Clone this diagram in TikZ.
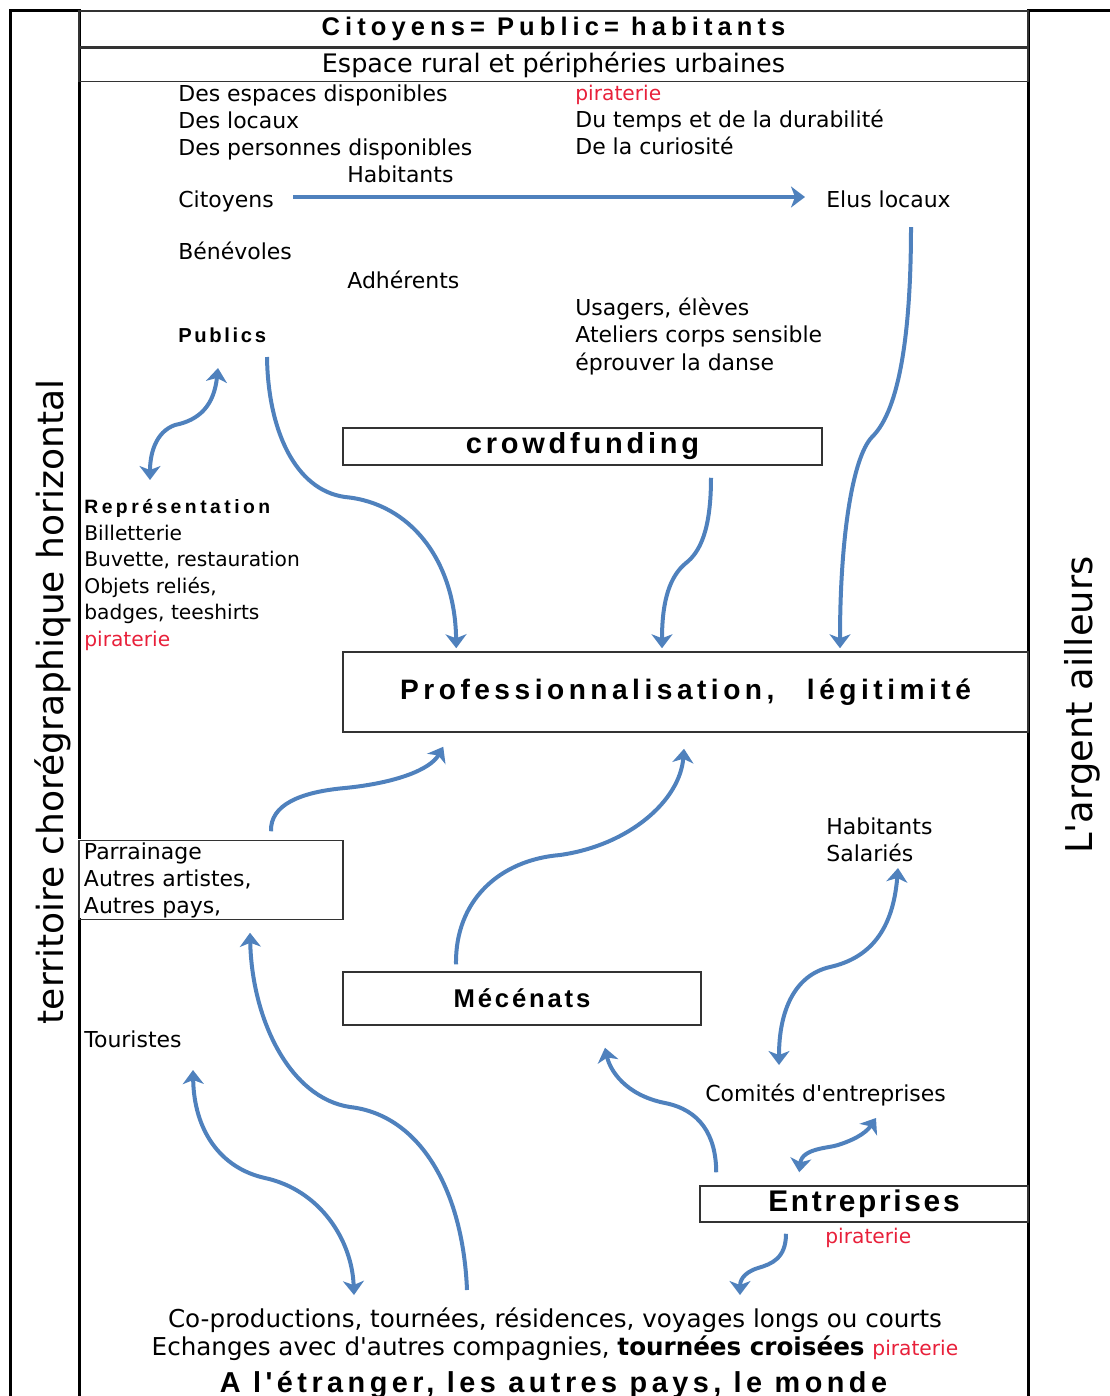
\documentclass[tikz,border=0pt]{standalone}
\usepackage{fontspec}
\setmainfont{DejaVu Sans}
\newfontfamily\arialfont{Liberation Sans}
\usetikzlibrary{arrows.meta,positioning}
\definecolor{flowblue}{HTML}{4F81BD}
\definecolor{piratered}{HTML}{E8203A}
\definecolor{boxline}{HTML}{333333}
\newcommand{\spacedbold}[2]{{\arialfont\bfseries\addfontfeature{LetterSpace=#1}#2}}

\begin{document}
\begin{tikzpicture}[x=0.2mm, y=-0.2mm,
    >={Stealth[length=2.8mm, width=4.2mm, inset=0.8mm]},
    frame/.style={line width=0.6mm},
    row/.style={rectangle, draw=boxline, line width=0.3mm, inner sep=0pt, minimum width=189.8mm},
    box/.style={rectangle, draw=boxline, line width=0.3mm, inner sep=0pt},
    txt/.style={inner sep=0pt, anchor=base west, font=\fontsize{12.5}{15.4}\selectfont},
    lst/.style={inner sep=0pt, anchor=north west, align=left, font=\fontsize{12.5}{15.4}\selectfont},
    pirate/.style={inner sep=0pt, anchor=base west, text=piratered, font=\fontsize{11.5}{14}\selectfont},
    bottomline/.style={inner sep=0pt, anchor=base, font=\fontsize{14}{17}\selectfont},
    side/.style={inner sep=0pt, anchor=base, rotate=90, font=\fontsize{20.5}{24}\selectfont},
    arrow/.style={->, draw=flowblue, line width=0.8mm},
    twoway/.style={<->, draw=flowblue, line width=0.8mm}
  ]
  \useasboundingbox (0,0) rectangle (1110,1396);
  \draw[frame] (10,1396) |- (79,10) -- (79,839);
  \draw[frame] (79,918) -- (79,1396);
  \draw[frame] (1110,10) -| (1028,1396);

  \node[row, minimum height=7.2mm, font=\fontsize{14.5}{17}\selectfont] (title) at (553.5,29) {\spacedbold{20}{Citoyens= Public= habitants}};
  \node[row, minimum height=6.6mm, font=\fontsize{14.5}{17}\selectfont, below=0pt of title] (espace) {Espace rural et périphéries urbaines};

  \node[lst] (dispo) at (178,84) {Des espaces disponibles\\Des locaux\\Des personnes disponibles};
  \node[pirate] (pira1) at (575,100) {piraterie};
  \node[lst] (temps) at (575,110) {Du temps et de la durabilité\\De la curiosité};
  \node[txt] (habit1) at (347,182) {Habitants};
  \node[txt] (citoyens) at (178,207) {Citoyens};
  \node[txt] (elus) at (826,207) {Elus locaux};
  \node[txt] (benevoles) at (178,259) {Bénévoles};
  \node[txt] (adherents) at (347,288) {Adhérents};
  \node[txt, font=\fontsize{11.5}{14}\selectfont] (publics) at (178,342) {\spacedbold{13}{Publics}};
  \node[lst] (usagers) at (575,298) {Usagers, élèves\\Ateliers corps sensible\\éprouver la danse};
  \node[box, minimum width=95.8mm, minimum height=7.4mm, font=\fontsize{16.5}{19}\selectfont] (crowd) at (582.5,446.5) {\spacedbold{13}{crowdfunding}};
  \node[lst, font=\fontsize{11.5}{15.1}\selectfont] (vente) at (84,499) {{\fontsize{11}{13}\selectfont\spacedbold{18}{Représentation}}\\Billetterie\\Buvette, restauration\\Objets reliés,\\badges, teeshirts\\\textcolor{piratered}{piraterie}};
  \node[box, minimum width=137mm, minimum height=16mm, font=\fontsize{16}{19}\selectfont] (prof) at (685.5,692) {\spacedbold{16}{Professionnalisation,\hspace{6.5mm}légitimité}};
  \node[box, minimum width=52.8mm, minimum height=15.8mm, text width=50.8mm, align=left, font=\fontsize{12.5}{15.4}\selectfont] (parrain) at (211,880) {Parrainage\\Autres artistes,\\Autres pays,};
  \node[lst] (habsal) at (826,817) {Habitants\\Salariés};
  \node[box, minimum width=71.6mm, minimum height=10.6mm, font=\fontsize{14.6}{17}\selectfont] (mecenat) at (522,998.5) {\spacedbold{11}{Mécénats}};
  \node[txt] (touristes) at (84,1047) {Touristes};
  \node[txt] (comites) at (705,1101) {Comités d\textquotesingle entreprises};
  \node[box, minimum width=65.6mm, minimum height=7.2mm, font=\fontsize{17}{20}\selectfont] (entrep) at (864,1204) {\spacedbold{9}{Entreprises}};
  \node[pirate] (pira3) at (825,1243) {piraterie};
  \node[bottomline] (coprod) at (555,1327) {Co-productions, tournées, résidences, voyages longs ou courts};
  \node[bottomline] (echanges) at (555,1355) {Echanges avec d\textquotesingle autres compagnies, \textbf{tournées croisées} {\fontsize{11.5}{14}\selectfont\color{piratered}piraterie}};
  \node[bottomline, font=\fontsize{16.4}{19}\selectfont] (monde) at (553.5,1392) {\spacedbold{15.5}{A l'étranger, les autres pays, le monde}};
  \node[side] (territoire) at (63,702) {territoire chorégraphique horizontal};
  \node[side, font=\fontsize{21}{24}\selectfont] (argent) at (1092,705) {L\textquotesingle argent ailleurs};

  \draw[arrow] ([shift={(115,-10)}]citoyens.base west) -- ([shift={(-21,-10)}]elus.base west);
  \draw[arrow] ([shift={(85,20)}]elus.base west) .. controls (911,330) and (900,410) .. (872,437) .. controls (852,458) and (840,540) .. ([shift={(154.5,-3)}]prof.north);
  \draw[arrow] ([shift={(128.5,12)}]crowd.south) .. controls (711,530) and (700,552) .. (686,563) .. controls (670,576) and (662,600) .. ([shift={(-23.5,-3)}]prof.north);
  \draw[arrow] ([shift={(89,15)}]publics.base west) .. controls (268,430) and (295,490) .. (345,497) .. controls (410,503) and (455,560) .. ([shift={(114,-3)}]prof.north west);
  \draw[twoway] ([shift={(40,26)}]publics.base west) .. controls (214,405) and (200,420) .. (175,425) .. controls (155,432) and (150,455) .. ([shift={(66,-19)}]vente.north west);
  \draw[arrow] ([shift={(60,-8.5)}]parrain.north) .. controls (270,805) and (300,792) .. (345,788) .. controls (395,783) and (430,770) .. ([shift={(101,14)}]prof.south west);
  \draw[arrow] ([shift={(-66,-7)}]mecenat.north) .. controls (455,900) and (500,860) .. (560,855) .. controls (630,845) and (680,800) .. ([shift={(-1.5,16)}]prof.south);
  \draw[twoway] ([shift={(72,51)}]habsal.north west) .. controls (893,930) and (870,958) .. (830,967) .. controls (795,975) and (779,1010) .. ([shift={(74,-36)}]comites.base west);
  \draw[arrow] ([shift={(17,-13)}]entrep.north west) .. controls (716,1135) and (700,1110) .. (665,1103) .. controls (625,1095) and (610,1070) .. ([shift={(83,22)}]mecenat.south);
  \draw[twoway] ([shift={(100,-13)}]entrep.north west) .. controls (802,1148) and (830,1148) .. (838,1145) .. controls (860,1138) and (868,1130) .. ([shift={(171,17)}]comites.base west);
  \draw[arrow] ([shift={(-78,11)}]entrep.south) .. controls (786,1258) and (772,1264) .. (758,1268) .. controls (742,1273) and (740,1282) .. ([shift={(185,-32)}]coprod.base);
  \draw[arrow] ([shift={(-88,-37)}]coprod.base) .. controls (463,1190) and (420,1115) .. (350,1107) .. controls (290,1098) and (252,1020) .. ([shift={(39,12.5)}]parrain.south);
  \draw[twoway] ([shift={(109,23)}]touristes.base west) .. controls (194,1130) and (220,1168) .. (265,1178) .. controls (320,1190) and (352,1240) .. ([shift={(-201,-32)}]coprod.base);
\end{tikzpicture}
\end{document}
